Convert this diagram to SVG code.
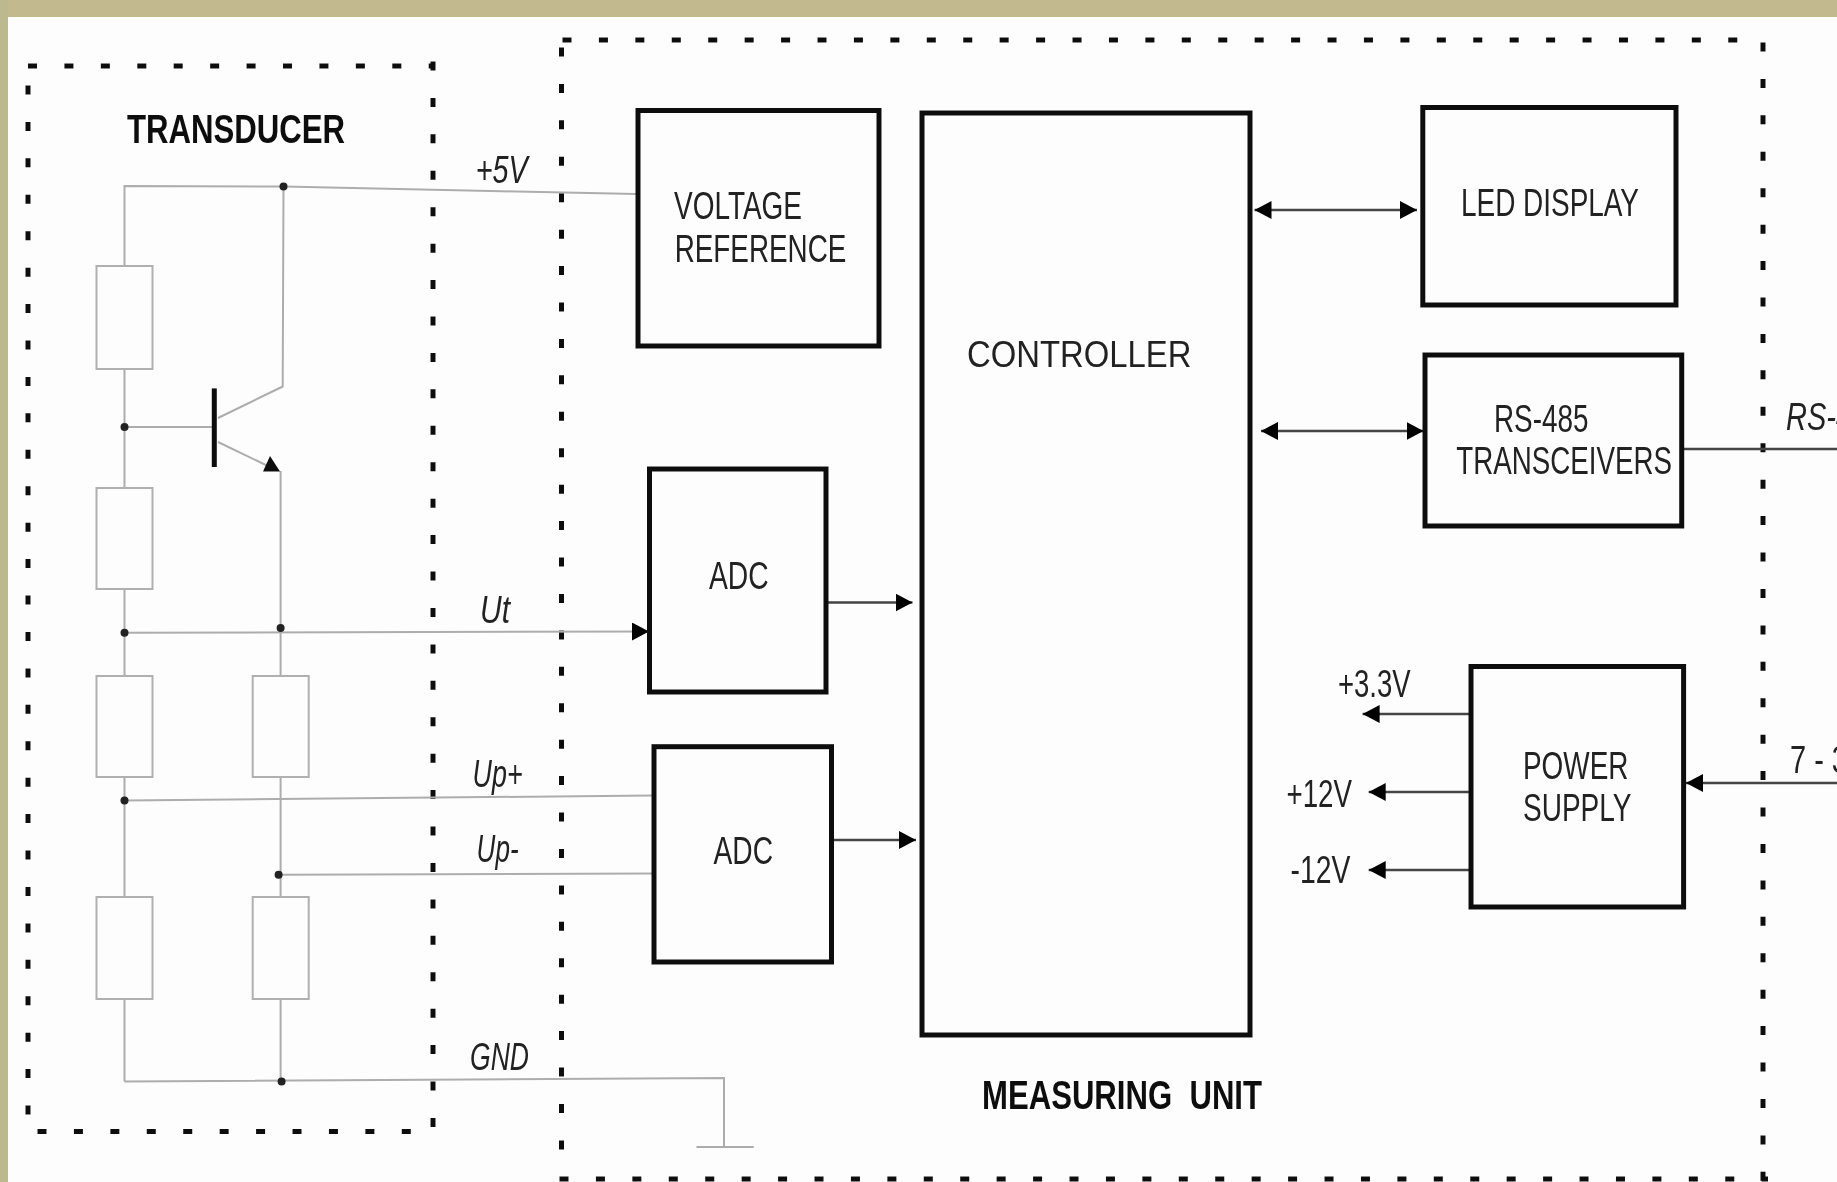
<svg xmlns="http://www.w3.org/2000/svg" width="1837" height="1182" viewBox="0 0 1837 1182">
<style>
.box{fill:#fdfdfd;stroke:#111;stroke-width:5}
.res{fill:#fdfdfd;stroke:#b0b0b0;stroke-width:2}
.wire{fill:none;stroke:#adadad;stroke-width:2}
.arr{fill:none;stroke:#444;stroke-width:2.4}
.dash{fill:none;stroke:#111;stroke-width:5;stroke-dasharray:9 27.43}
.dot{fill:#222}
.t{font-family:"Liberation Sans",Arial,sans-serif;font-size:38px;fill:#222}
.i{font-style:italic}
.b{font-weight:bold;font-size:41px;fill:#111;white-space:pre}
.soft{filter:url(#soft)}
</style>
<defs>
<filter id="soft" x="-2%" y="-2%" width="104%" height="104%"><feGaussianBlur stdDeviation="0.7"/></filter>
<marker id="ah" markerUnits="userSpaceOnUse" markerWidth="18" markerHeight="20" refX="17" refY="9" orient="auto-start-reverse"><path d="M0,0 L17,9 L0,18 z" fill="#000"/></marker>
</defs>
<rect id="page" width="1837" height="1182" fill="#fdfdfd"/>
<rect id="band-top" width="1837" height="17" fill="#c2b98f"/>
<rect id="band-left" width="8" height="1182" fill="#bdb98f"/>
<g class="soft">
<g id="frames">
<g id="transducer-frame">
<line class="dash" x1="28" y1="66" x2="433" y2="66"/>
<line class="dash" x1="28" y1="85.5" x2="28" y2="1116"/>
<line class="dash" x1="433" y1="61.5" x2="433" y2="1128"/>
<line class="dash" x1="37.5" y1="1131.5" x2="414" y2="1131.5"/>
<text class="t b" x="127" y="143" textLength="218" lengthAdjust="spacingAndGlyphs">TRANSDUCER</text>
</g>
<g id="measuring-unit-frame">
<line class="dash" x1="562.5" y1="40" x2="1740" y2="40"/>
<line class="dash" x1="561.5" y1="47.5" x2="561.5" y2="1151"/>
<line class="dash" x1="1763" y1="42.5" x2="1763" y2="1182"/>
<line class="dash" x1="559.5" y1="1179" x2="1768" y2="1179"/>
<text class="t b" x="982" y="1109" textLength="280" lengthAdjust="spacingAndGlyphs">MEASURING  UNIT</text>
</g>
</g>
<g id="connectors">
<path class="wire" d="M124.5,266 V186 L283.5,186.5 L636,194"/>
<path class="wire" d="M124.5,369 V488 M124.5,589 V676 M124.5,777 V897 M124.5,999 V1081.5"/>
<path class="wire" d="M283.5,186.5 L282.7,386.5 L218,418"/>
<path class="wire" d="M124.5,427 H212"/>
<path class="wire" d="M218,442 L272,468"/>
<path class="wire" d="M280.6,471 V676 M280.6,777 V897 M280.6,999 V1081.5"/>
<path class="wire" d="M124.5,632.7 L649,631.5" marker-end="url(#ah)"/>
<path class="wire" d="M124.5,800.4 L652,795.6"/>
<path class="wire" d="M278.6,874.7 L652,873.6"/>
<path class="wire" d="M124.5,1081.5 L724,1078 V1147 M696.5,1147 H753.7"/>
<line class="arr" x1="828" y1="602.5" x2="912.5" y2="602.5" marker-end="url(#ah)"/>
<line class="arr" x1="832" y1="840" x2="916" y2="840" marker-end="url(#ah)"/>
<line class="arr" x1="1254.5" y1="210" x2="1417" y2="210" marker-start="url(#ah)" marker-end="url(#ah)"/>
<line class="arr" x1="1261" y1="431" x2="1423.5" y2="431" marker-start="url(#ah)" marker-end="url(#ah)"/>
<line class="arr" x1="1470" y1="714" x2="1362.6" y2="714" marker-end="url(#ah)"/>
<line class="arr" x1="1470" y1="792" x2="1368.7" y2="792" marker-end="url(#ah)"/>
<line class="arr" x1="1470" y1="870" x2="1368.7" y2="870" marker-end="url(#ah)"/>
<line class="arr" x1="1837" y1="783" x2="1686" y2="783" marker-end="url(#ah)"/>
<line class="arr" x1="1684" y1="449" x2="1837" y2="449"/>
</g>
<g id="junctions">
<circle class="dot" cx="283.5" cy="186.5" r="4"/>
<circle class="dot" cx="124.5" cy="427" r="4"/>
<circle class="dot" cx="124.5" cy="632.7" r="4"/>
<circle class="dot" cx="280.6" cy="628" r="4"/>
<circle class="dot" cx="124.5" cy="800.4" r="4"/>
<circle class="dot" cx="278.6" cy="874.7" r="4"/>
<circle class="dot" cx="281.6" cy="1081.5" r="4"/>
</g>
<g id="transistor">
<line x1="214.3" y1="388.4" x2="214.3" y2="467" stroke="#111" stroke-width="5"/>
<polygon points="263,471.5 280,471.5 270,456" fill="#111"/>
</g>
<g id="r1"><rect class="res" x="96.5" y="266" width="56" height="103"/></g>
<g id="r2"><rect class="res" x="96.5" y="488" width="56" height="101"/></g>
<g id="r3"><rect class="res" x="96.5" y="676" width="56" height="101"/></g>
<g id="r4"><rect class="res" x="96.5" y="897" width="56" height="102"/></g>
<g id="r5"><rect class="res" x="252.7" y="676" width="56" height="101"/></g>
<g id="r6"><rect class="res" x="252.7" y="897" width="56" height="102"/></g>
<g id="signal-labels">
<text class="t i" x="475.7" y="183" textLength="52" lengthAdjust="spacingAndGlyphs">+5V</text>
<text class="t i" x="480" y="622.5" textLength="30" lengthAdjust="spacingAndGlyphs">Ut</text>
<text class="t i" x="472.6" y="787" textLength="50" lengthAdjust="spacingAndGlyphs">Up+</text>
<text class="t i" x="476.6" y="862.3" textLength="42" lengthAdjust="spacingAndGlyphs">Up-</text>
<text class="t i" x="470" y="1070" textLength="59" lengthAdjust="spacingAndGlyphs">GND</text>
<text class="t i" x="1786" y="430" textLength="66" lengthAdjust="spacingAndGlyphs">RS-4</text>
<text class="t" x="1790" y="773" textLength="58" lengthAdjust="spacingAndGlyphs">7 - 3</text>
<text class="t" x="1338" y="697" textLength="72.6" lengthAdjust="spacingAndGlyphs">+3.3V</text>
<text class="t" x="1286.5" y="807" textLength="65.5" lengthAdjust="spacingAndGlyphs">+12V</text>
<text class="t" x="1290.6" y="883" textLength="59.8" lengthAdjust="spacingAndGlyphs">-12V</text>
</g>
<g id="voltage-reference">
<rect class="box" x="638" y="110.5" width="241" height="235.5"/>
<text class="t" x="674" y="219" textLength="128" lengthAdjust="spacingAndGlyphs">VOLTAGE</text>
<text class="t" x="674.7" y="262" textLength="171.7" lengthAdjust="spacingAndGlyphs">REFERENCE</text>
</g>
<g id="controller">
<rect class="box" x="922" y="113" width="328" height="922"/>
<text class="t" x="967" y="366.5" textLength="224.5" lengthAdjust="spacingAndGlyphs" style="font-size:36px">CONTROLLER</text>
</g>
<g id="adc-1">
<rect class="box" x="649.5" y="469" width="176.5" height="223"/>
<text class="t" x="709" y="589" textLength="59.6" lengthAdjust="spacingAndGlyphs">ADC</text>
</g>
<g id="adc-2">
<rect class="box" x="654" y="746.7" width="177.5" height="215.3"/>
<text class="t" x="713.5" y="864" textLength="59.5" lengthAdjust="spacingAndGlyphs">ADC</text>
</g>
<g id="led-display">
<rect class="box" x="1422.8" y="107.5" width="253.2" height="197.5"/>
<text class="t" x="1461" y="216" textLength="178" lengthAdjust="spacingAndGlyphs">LED DISPLAY</text>
</g>
<g id="rs485-transceivers">
<rect class="box" x="1425" y="355" width="256.7" height="171"/>
<text class="t" x="1494" y="431.5" textLength="94.4" lengthAdjust="spacingAndGlyphs">RS-485</text>
<text class="t" x="1456.3" y="474" textLength="215.7" lengthAdjust="spacingAndGlyphs">TRANSCEIVERS</text>
</g>
<g id="power-supply">
<rect class="box" x="1471" y="666.5" width="212.6" height="240.5"/>
<text class="t" x="1523" y="779" textLength="105.4" lengthAdjust="spacingAndGlyphs">POWER</text>
<text class="t" x="1523" y="821" textLength="108.5" lengthAdjust="spacingAndGlyphs">SUPPLY</text>
</g>
</g>
</svg>
